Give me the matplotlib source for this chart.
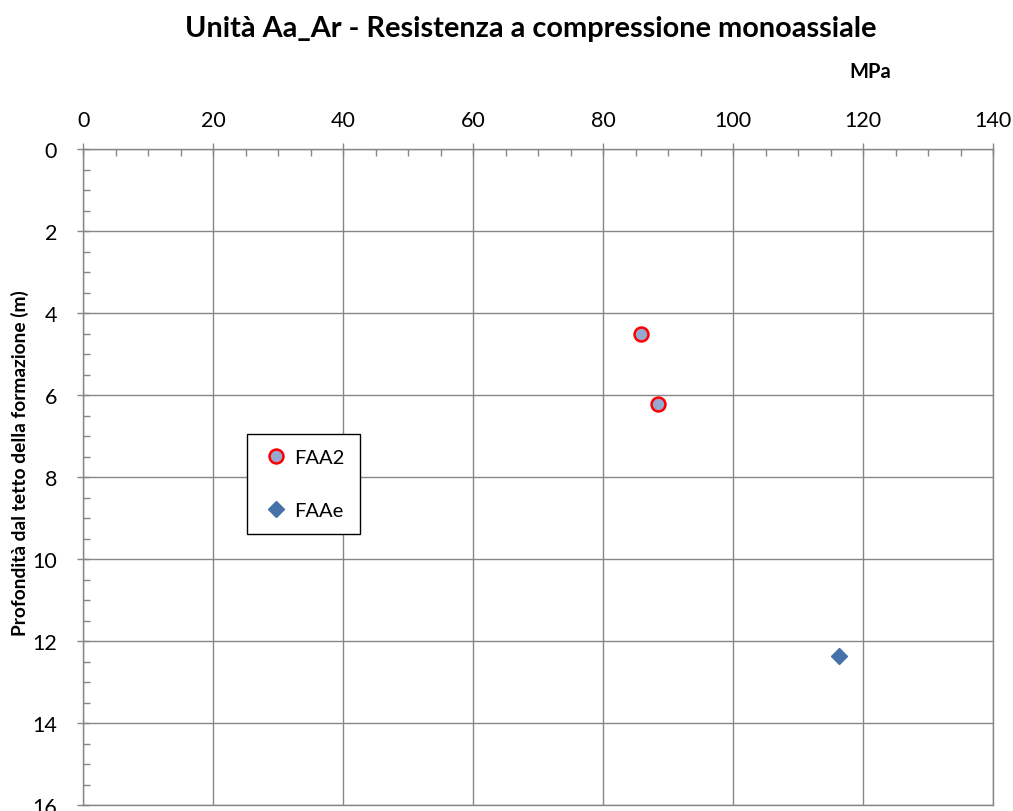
import matplotlib.pyplot as plt
from matplotlib.ticker import MultipleLocator

# FAA2 and FAAe samples: strength (MPa) vs depth from formation top (m)
faa2_mpa   = [85.8, 88.4]
faa2_depth = [4.51, 6.22]
faae_mpa   = [116.3]
faae_depth = [12.37]

plt.rcParams['font.family'] = ['Lato', 'DejaVu Sans']

W, H = 1013, 812
fig = plt.figure( figsize=(W/100, H/100), dpi=100 )
ax  = fig.add_axes( [83.3/W, 1 - 806/H, 910/W, 656/H] )

grey = "#868686"

ax.plot( faa2_mpa, faa2_depth, linestyle='none', marker='o', markersize=10,
         markerfacecolor="#95A9D0", markeredgecolor="#FF0000", markeredgewidth=1.8,
         label="FAA2", zorder=3 )
ax.plot( faae_mpa, faae_depth, linestyle='none', marker='D', markersize=8,
         markerfacecolor="#4672AA", markeredgecolor="#4672AA",
         label="FAAe", zorder=3 )

ax.set_xlim( 0, 140 )
ax.set_ylim( 16, 0 )
ax.xaxis.set_major_locator( MultipleLocator(20) )
ax.xaxis.set_minor_locator( MultipleLocator(5) )
ax.yaxis.set_major_locator( MultipleLocator(2) )
ax.yaxis.set_minor_locator( MultipleLocator(0.5) )
ax.xaxis.tick_top()

ax.tick_params( which='major', direction='inout', length=8, width=1, color=grey,
                labelsize=15.5 )
ax.tick_params( axis='x', which='major', pad=10 )
ax.tick_params( axis='y', which='major', pad=15 )
ax.tick_params( which='minor', direction='in', length=5, width=1, color=grey )

for s in ax.spines.values():
    s.set_color( grey )
    s.set_linewidth( 1 )

ax.grid( which='major', color=grey, linewidth=1 )
ax.set_axisbelow( True )

fig.text( 19.5/W, 1 - 463/H, "Profondità dal tetto della formazione (m)",
          rotation=90, ha='center', va='center', fontsize=13.8, fontweight='bold' )

fig.text( 531/W, 1 - 37/H, "Unità Aa_Ar - Resistenza a compressione monoassiale",
          ha='center', va='baseline', fontsize=20.8, fontweight='bold' )
fig.text( 870/W, 1 - 78/H, "MPa", ha='center', va='baseline',
          fontsize=14.5, fontweight='bold' )

leg = ax.legend( loc='upper left', bbox_to_anchor=(0.18, 0.5655), fontsize=14.5,
                 frameon=True, fancybox=False, framealpha=1.0, edgecolor="black",
                 borderpad=0.75, labelspacing=1.75, handletextpad=0.2,
                 handlelength=1.4, borderaxespad=0 )
leg.get_frame().set_linewidth( 1 )

plt.savefig( "out.png", dpi=100 )
